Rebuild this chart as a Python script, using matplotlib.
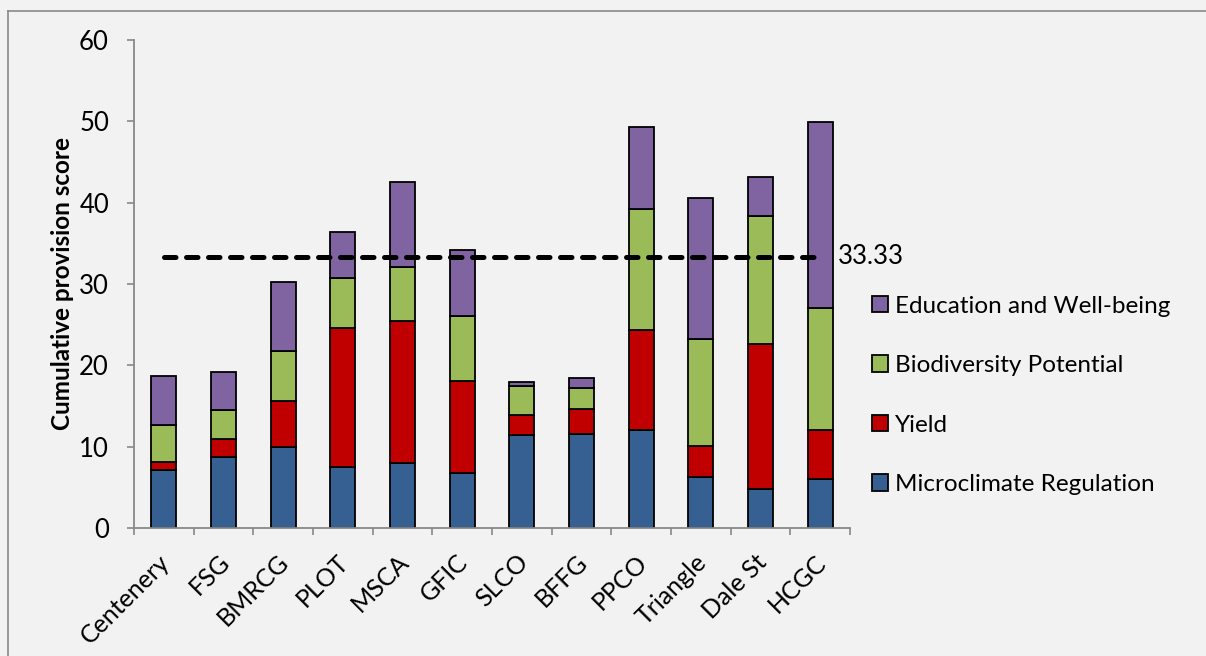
import matplotlib
matplotlib.use("Agg")
import matplotlib.pyplot as plt
import matplotlib.transforms as mtransforms
from matplotlib.patches import Patch
from matplotlib.lines import Line2D
import numpy as np

plt.rcParams['font.family'] = ['Lato', 'DejaVu Sans']

sites = ["Centenery", "FSG", "BMRCG", "PLOT", "MSCA", "GFIC", "SLCO",
         "BFFG", "PPCO", "Triangle", "Dale St", "HCGC"]

# cumulative tops of each stacked layer
top_microclimate = [7.1, 8.7, 10.0, 7.5, 7.95, 6.8, 11.45, 11.55, 12.1, 6.3, 4.75, 6.05]
top_yield = [8.1, 11.0, 15.6, 24.55, 25.5, 18.1, 13.95, 14.6, 24.35, 10.1, 22.6, 12.05]
top_biodiversity = [12.65, 14.55, 21.75, 30.7, 32.15, 26.05, 17.4, 17.25, 39.2, 23.2, 38.3, 27.0]
top_education = [18.7, 19.15, 30.2, 36.45, 42.6, 34.2, 17.95, 18.45, 49.25, 40.55, 43.2, 49.9]

microclimate = np.array(top_microclimate)
yield_ = np.array(top_yield) - np.array(top_microclimate)
biodiversity = np.array(top_biodiversity) - np.array(top_yield)
education = np.array(top_education) - np.array(top_biodiversity)

threshold = 33.33

series_names = ["Microclimate Regulation", "Yield", "Biodiversity Potential",
                "Education and Well-being"]
series_colors = ["#366092", "#C00000", "#9BBB59", "#8064A2"]
bg = "#F2F2F2"

W, H = 1206, 656
fig = plt.figure(figsize=(W / 100, H / 100), dpi=100, facecolor=bg)
ax = fig.add_axes([134 / W, (H - 528) / H, (850 - 134) / W, (528 - 40) / H])
ax.set_facecolor(bg)

x = np.arange(len(sites))
bottom = np.zeros(len(sites))
for vals, col in zip([microclimate, yield_, biodiversity, education], series_colors):
    ax.bar(x, vals, bottom=bottom, width=0.42, color=col, edgecolor="black",
           linewidth=1.3, zorder=2)
    bottom = bottom + vals

ax.plot(x, [threshold] * len(x), color="black", linewidth=3.6,
        linestyle=(0, (2.3, 2.1)), dash_capstyle="round", zorder=3)
ax.text(x[-1] + 0.3, threshold, f"{threshold:.2f}", fontsize=18.5,
        va="center", ha="left")

ax.set_xlim(-0.5, len(sites) - 0.5)
ax.set_ylim(0, 60)
ax.set_yticks(np.arange(0, 61, 10))
ax.tick_params(axis="y", length=5, width=1.2, color="#888888", labelsize=18.5, pad=13)

ax.set_xticks(x)
ax.set_xticklabels(sites, rotation=45, ha="right", va="top",
                   rotation_mode="anchor", fontsize=18)
ax.tick_params(axis="x", length=0, pad=16)
shift = mtransforms.ScaledTranslation(-6 / 100, 0, fig.dpi_scale_trans)
for lbl in ax.get_xticklabels():
    lbl.set_transform(lbl.get_transform() + shift)
ax.set_xticks(np.arange(-0.5, len(sites), 1.0), minor=True)
ax.tick_params(axis="x", which="minor", length=5, width=1.2, color="#888888")

for s in ["top", "right"]:
    ax.spines[s].set_visible(False)
for s in ["left", "bottom"]:
    ax.spines[s].set_color("#888888")
    ax.spines[s].set_linewidth(1.3)

ax.set_ylabel("Cumulative provision score", fontsize=17.5, fontweight="bold", labelpad=4)

handles = [Patch(facecolor=c, edgecolor="black", linewidth=1.3) for c in series_colors]
leg = fig.legend(handles[::-1], series_names[::-1], loc="upper left",
                 bbox_to_anchor=(862 / W, 1 - 286 / H), frameon=False, fontsize=17.5,
                 handlelength=0.65, handleheight=0.65, handletextpad=0.3,
                 labelspacing=1.58, borderaxespad=0)

# outer frame
fig.add_artist(Line2D([8 / W, 8 / W], [0, 1 - 11 / H], transform=fig.transFigure,
                      color="#898989", linewidth=1.2))
fig.add_artist(Line2D([8 / W, 1], [1 - 11 / H, 1 - 11 / H], transform=fig.transFigure,
                      color="#898989", linewidth=1.2))

fig.savefig("out.png", dpi=100, facecolor=bg)
